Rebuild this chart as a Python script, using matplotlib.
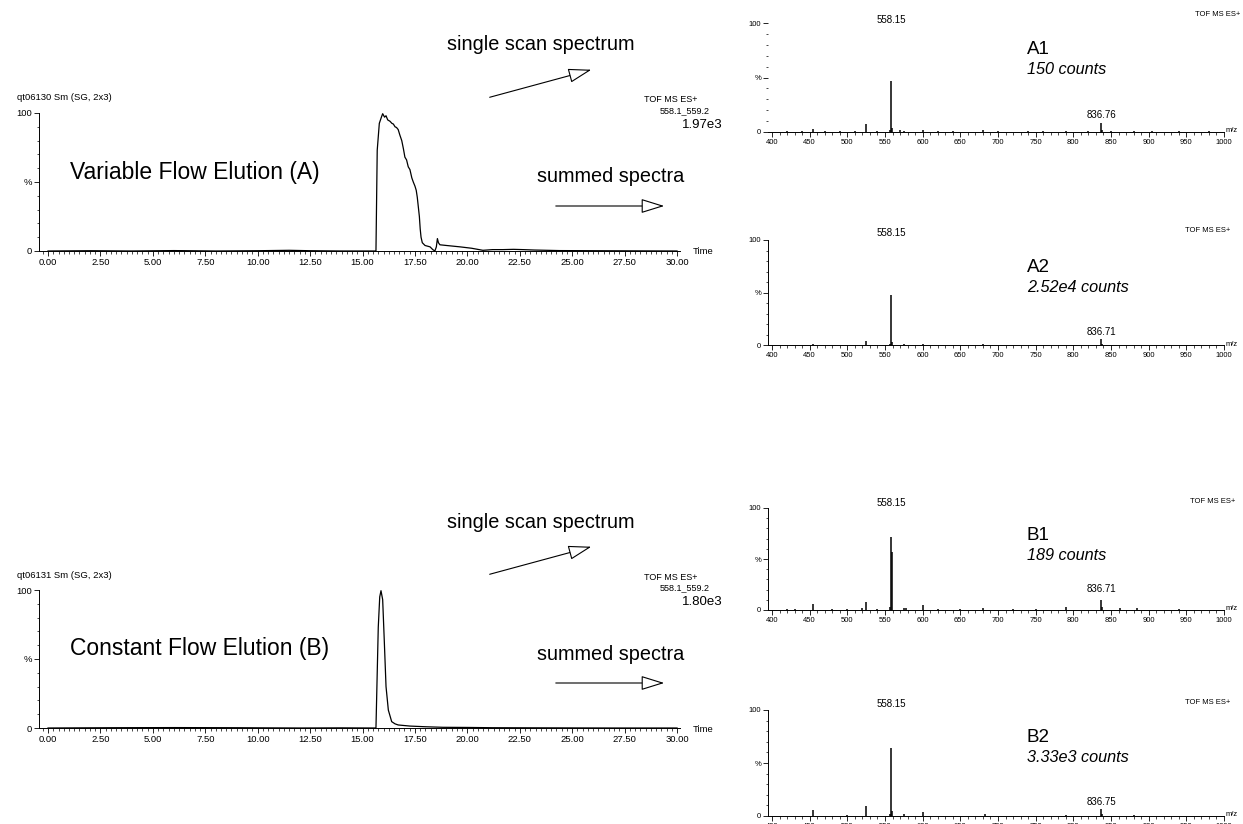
import numpy as np
import matplotlib
matplotlib.use("Agg")
import matplotlib.pyplot as plt
from matplotlib.ticker import MultipleLocator, FixedLocator, FixedFormatter
from matplotlib.patches import FancyArrowPatch

plt.rcParams['font.family'] = ['Liberation Sans', 'DejaVu Sans']

# chromatogramy (cas v min, intenzita v %)
time_a = [0.0, 2.0, 4.0, 6.0, 8.0, 10.0, 11.5, 12.5, 14.0, 15.5, 15.64, 15.70, 15.80, 15.90,
          15.96, 16.05, 16.12, 16.20, 16.31, 16.40, 16.47, 16.55, 16.62, 16.70, 16.78, 16.87,
          16.95, 17.02, 17.10, 17.18, 17.26, 17.35, 17.42, 17.50, 17.56, 17.61, 17.66, 17.71,
          17.75, 17.79, 17.85, 17.98, 18.10, 18.22, 18.35, 18.45, 18.52, 18.57, 18.62, 18.69,
          19.0, 19.65, 20.2, 20.74, 21.2, 21.7, 22.2, 22.65, 23.2, 24.4, 26.0, 28.0, 30.0]
int_a = [0.0, 0.2, 0.0, 0.3, 0.0, 0.2, 0.5, 0.2, 0.0, 0.0, 0.0, 73.0, 92.5, 97.0,
         99.5, 97.0, 98.0, 95.0, 94.0, 92.5, 92.0, 90.0, 89.5, 88.0, 84.0, 80.0,
         74.0, 68.0, 66.0, 61.0, 59.0, 53.0, 50.0, 47.0, 44.0, 39.0, 32.0, 25.0,
         16.0, 10.0, 6.0, 4.0, 3.5, 3.0, 1.0, 0.0, 3.0, 9.0, 6.0, 4.5,
         4.0, 3.0, 2.0, 0.5, 1.0, 1.0, 1.2, 1.0, 0.7, 0.3, 0.2, 0.1, 0.0]

time_b = [0.0, 3.0, 6.0, 9.0, 12.0, 14.0, 15.5, 15.64, 15.75, 15.82, 15.88, 15.96, 16.04,
          16.12, 16.23, 16.39, 16.55, 16.70, 17.26, 18.0, 18.84, 20.0, 21.2, 24.0, 27.0, 30.0]
int_b = [0.0, 0.2, 0.3, 0.2, 0.0, 0.1, 0.0, 0.0, 73.0, 95.0, 99.5, 93.0, 62.0,
         30.0, 13.0, 4.6, 3.0, 2.2, 1.4, 0.9, 0.5, 0.4, 0.2, 0.1, 0.0, 0.0]

# hmotnostni spektra (m/z, intenzita v %)
mz_a1 = [420, 440, 455, 470, 490, 510, 525, 540, 556, 558.15, 559.2, 570, 575, 600, 620, 640,
         680, 700, 740, 760, 790, 820, 836.76, 837.8, 850, 880, 905, 940, 980]
int_a1 = [0.8, 0.6, 3.0, 0.7, 0.8, 0.6, 7.0, 1.0, 1.5, 47.0, 4.0, 1.5, 1.0, 2.0, 0.8, 0.6,
          1.5, 0.5, 0.5, 0.6, 1.0, 0.8, 8.0, 2.0, 0.7, 0.6, 0.5, 0.6, 0.5]

mz_a2 = [455, 500, 525, 556, 558.15, 559.1, 575, 600, 680, 790, 836.71, 837.7, 880]
int_a2 = [0.8, 0.4, 4.0, 1.0, 48.0, 3.0, 0.6, 0.6, 0.5, 0.4, 6.0, 1.0, 0.4]

mz_b1 = [420, 430, 455, 480, 500, 520, 525, 540, 556, 558.15, 559.0, 575, 578, 600, 620, 650,
         680, 720, 750, 790, 836.71, 837.7, 862, 885, 940]
int_b1 = [1.0, 1.0, 6.0, 0.8, 1.0, 2.0, 8.0, 1.0, 3.0, 72.0, 57.0, 2.0, 1.5, 5.0, 1.0, 0.8,
          1.5, 0.8, 1.0, 3.0, 10.0, 3.0, 1.5, 1.5, 0.8]

mz_b2 = [455, 500, 525, 556, 558.15, 559.1, 575, 600, 683, 790, 836.75, 837.7, 880]
int_b2 = [6.0, 1.0, 9.0, 2.0, 64.0, 5.0, 1.5, 4.0, 2.0, 1.0, 7.0, 1.5, 0.5]

tick_times = np.arange(0, 30.01, 2.5)
tick_mz = np.arange(400, 1001, 50)

W, H = 1243, 824
fig = plt.figure(figsize=(W / 100, H / 100), dpi=100)


def box(l, t, r, b):
    """ Prevod pixelu (levy, horni, pravy, dolni) na souradnice obrazku """
    return [l / W, 1 - b / H, (r - l) / W, (b - t) / H]


def fpos(x, y):
    return (x / W, 1 - y / H)


def ftext(x, y, s, **kw):
    kw.setdefault("va", "center")
    fig.text(x / W, 1 - y / H, s, **kw)


def arrow(x0, y0, x1, y1):
    a = FancyArrowPatch(fpos(x0, y0), fpos(x1, y1), transform=fig.transFigure,
                        arrowstyle="-|>,head_length=1.45,head_width=0.45",
                        mutation_scale=10, fc="white", ec="black", lw=0.8)
    fig.patches.append(a)


def style_axes(ax, labelsize):
    ax.spines["top"].set_visible(False)
    ax.spines["right"].set_visible(False)
    for s in ("left", "bottom"):
        ax.spines[s].set_linewidth(0.7)
    ax.set_ylim(0, 100)
    ax.yaxis.set_major_locator(FixedLocator([0, 50, 100]))
    ax.yaxis.set_major_formatter(FixedFormatter(["0", "%", "100"]))
    ax.yaxis.set_minor_locator(MultipleLocator(10))
    ax.tick_params(which="major", direction="out", length=3.5, width=0.6,
                   labelsize=labelsize, pad=1.5)
    ax.tick_params(which="minor", direction="out", length=1.8, width=0.5)
    ax.patch.set_alpha(0)


def chromatogram(top, bottom, t, y, name, label, scale):
    ax = fig.add_axes(box(39, top, 680, bottom))
    ax.plot(t, y, color="black", lw=0.9, clip_on=False)
    ax.set_xlim(-0.43, 30.14)
    ax.set_xticks(tick_times)
    ax.set_xticklabels(["%.2f" % v for v in tick_times])
    ax.xaxis.set_minor_locator(MultipleLocator(0.25))
    style_axes(ax, 6.8)
    ftext(17, top - 15, name, size=6.8)
    ftext(70, top + 59, label, size=16.5)
    ftext(693, bottom + 1, "Time", size=6.8)
    ftext(697, top - 13, "TOF MS ES+", size=6.5, ha="right")
    ftext(710, top - 2, "558.1_559.2", size=6.5, ha="right")
    ftext(723, top + 12, scale, size=9.5, ha="right")
    ftext(447, top - 68, "single scan spectrum", size=14.3)
    ftext(537, top + 64, "summed spectra", size=14.3)
    arrow(487, top - 15, 594, top - 44)
    arrow(553, top + 93, 667, top + 93)
    return ax


def spectrum(top, bottom, mz, inten, name, counts, lab2, y1, y2, tof, spine=True):
    ax = fig.add_axes(box(768, top, 1224, bottom))
    ax.vlines(mz, 0, inten, color="black", lw=1.1)
    ax.set_xlim(394.7, 1000)
    ax.set_xticks(tick_mz)
    ax.xaxis.set_minor_locator(MultipleLocator(10))
    style_axes(ax, 5.5)
    if not spine:
        ax.spines["left"].set_visible(False)
    ax.text(558.15, y1, "558.15", size=7, ha="center", va="center", clip_on=False)
    ax.text(mz[inten.index(max(v for m, v in zip(mz, inten) if m > 800))], y2, lab2,
            size=7, ha="center", va="center", clip_on=False)
    ftext(1226, bottom - 1, "m/z", size=5.5)
    ftext(tof[0], tof[1], "TOF MS ES+", size=5.5, ha="right")
    ftext(1027, top + 27, name, size=13.5)
    ftext(1027, top + 47, counts, size=11.7, style="italic")
    return ax


chromatogram(113, 251, time_a, int_a, "qt06130 Sm (SG, 2x3)", "Variable Flow Elution (A)", "1.97e3")
chromatogram(590, 728, time_b, int_b, "qt06131 Sm (SG, 2x3)", "Constant Flow Elution (B)", "1.80e3")

spectrum(23, 132, mz_a1, int_a1, "A1", "150 counts", "836.76", 103, 15.6, (1240, 15), spine=False)
spectrum(240, 345, mz_a2, int_a2, "A2", "2.52e4 counts", "836.71", 107, 12.4, (1230, 230))
spectrum(508, 610, mz_b1, int_b1, "B1", "189 counts", "836.71", 105, 21, (1235, 502))
spectrum(710, 816, mz_b2, int_b2, "B2", "3.33e3 counts", "836.75", 106, 13.2, (1230, 703))

fig.savefig("out.png", dpi=100)
